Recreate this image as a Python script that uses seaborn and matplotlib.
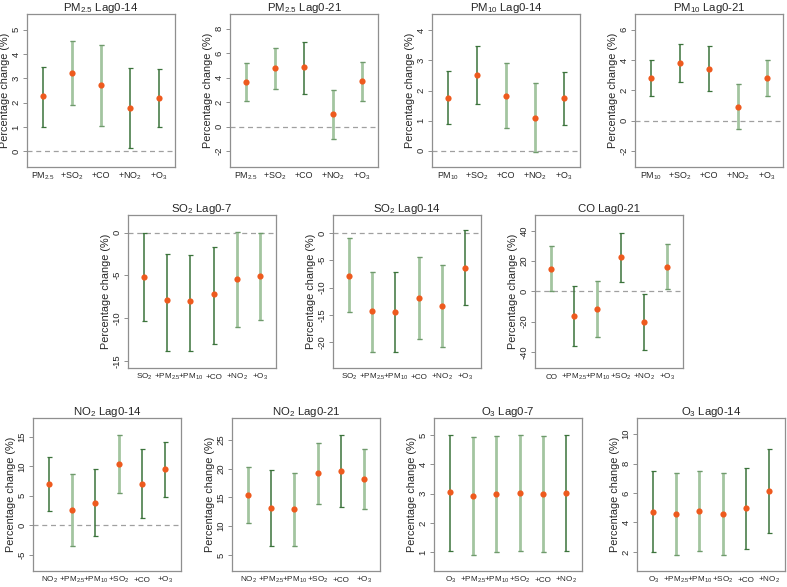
import matplotlib
matplotlib.use("Agg")
import matplotlib.pyplot as plt
import pandas as pd
import seaborn as sns

# model labels for each pollutant
pm25_labels = ["PM$_{2.5}$", "+SO$_2$", "+CO", "+NO$_2$", "+O$_3$"]
pm10_labels = ["PM$_{10}$", "+SO$_2$", "+CO", "+NO$_2$", "+O$_3$"]
so2_labels = ["SO$_2$", "+PM$_{2.5}$", "+PM$_{10}$", "+CO", "+NO$_2$", "+O$_3$"]
co_labels = ["CO", "+PM$_{2.5}$", "+PM$_{10}$", "+SO$_2$", "+NO$_2$", "+O$_3$"]
no2_labels = ["NO$_2$", "+PM$_{2.5}$", "+PM$_{10}$", "+SO$_2$", "+CO", "+O$_3$"]
o3_labels = ["O$_3$", "+PM$_{2.5}$", "+PM$_{10}$", "+SO$_2$", "+CO", "+NO$_2$"]

# percentage change, lower and upper 95% CI
pm25_lag14_est = [2.26, 3.22, 2.73, 1.78, 2.19]
pm25_lag14_lo = [1.01, 1.89, 1.04, 0.14, 0.99]
pm25_lag14_hi = [3.47, 4.55, 4.38, 3.42, 3.40]

pm25_lag21_est = [3.66, 4.75, 4.84, 1.01, 3.69]
pm25_lag21_lo = [2.13, 3.09, 2.68, -1.01, 2.13]
pm25_lag21_hi = [5.19, 6.39, 6.94, 3.03, 5.25]

pm10_lag14_est = [1.76, 2.51, 1.83, 1.10, 1.75]
pm10_lag14_lo = [0.89, 1.56, 0.75, -0.04, 0.87]
pm10_lag14_hi = [2.64, 3.47, 2.90, 2.26, 2.62]

pm10_lag21_est = [2.81, 3.82, 3.38, 0.92, 2.84]
pm10_lag21_lo = [1.63, 2.57, 1.93, -0.57, 1.65]
pm10_lag21_hi = [4.00, 5.05, 4.90, 2.44, 4.00]

so2_lag7_est = [-5.2, -7.9, -8.0, -7.2, -5.4, -5.1]
so2_lag7_lo = [-10.3, -13.9, -13.9, -13.0, -11.1, -10.2]
so2_lag7_hi = [0.0, -2.5, -2.6, -1.7, 0.1, -0.1]

so2_lag14_est = [-7.87, -14.39, -14.45, -11.95, -13.41, -6.40]
so2_lag14_lo = [-14.57, -21.77, -21.83, -19.45, -20.85, -13.29]
so2_lag14_hi = [-0.98, -7.07, -7.13, -4.45, -5.91, 0.55]

co_lag21_est = [14.9, -16.4, -11.6, 22.6, -20.2, 16.2]
co_lag21_lo = [0.4, -36.2, -30.3, 6.4, -38.6, 1.3]
co_lag21_hi = [29.6, 3.3, 7.0, 38.2, -2.0, 31.1]

no2_lag14_est = [7.03, 2.62, 3.85, 10.43, 7.08, 9.48]
no2_lag14_lo = [2.40, -3.57, -1.84, 5.46, 1.23, 4.74]
no2_lag14_hi = [11.60, 8.76, 9.48, 15.39, 12.94, 14.11]

no2_lag21_est = [15.46, 13.17, 13.00, 19.17, 19.57, 18.20]
no2_lag21_lo = [10.46, 6.60, 6.60, 13.86, 13.29, 12.90]
no2_lag21_hi = [20.34, 19.80, 19.30, 24.40, 25.86, 23.40]

o3_lag7_est = [3.04, 2.92, 3.00, 3.03, 2.99, 3.03]
o3_lag7_lo = [1.05, 0.89, 1.00, 1.05, 0.99, 1.04]
o3_lag7_hi = [5.02, 4.93, 4.98, 5.01, 4.97, 5.01]

o3_lag14_est = [4.74, 4.56, 4.79, 4.58, 4.96, 6.13]
o3_lag14_lo = [1.98, 1.80, 2.06, 1.80, 2.21, 3.31]
o3_lag14_hi = [7.52, 7.35, 7.52, 7.35, 7.72, 8.96]

# bar shading seen in the figure (True = dark green, False = light green)
shade_pm25_14 = [True, False, False, True, True]
shade_pm25_21 = [False, False, True, False, False]
shade_pm10_14 = [True, True, False, False, True]
shade_pm10_21 = [True, True, True, False, False]
shade_so2_7 = [True, True, True, True, False, False]
shade_so2_14 = [False, False, True, False, False, True]
shade_co_21 = [False, True, False, True, True, False]
shade_no2_14 = [True, False, True, False, True, True]
shade_no2_21 = [False, True, False, False, True, False]
shade_o3_7 = [True, False, False, False, False, True]
shade_o3_14 = [True, False, False, False, True, True]

# title, labels, est, lo, hi, shade, (left px, top px), ylim, yticks
panels = [
    ("PM$_{2.5}$ Lag0-14", pm25_labels, pm25_lag14_est, pm25_lag14_lo, pm25_lag14_hi,
     shade_pm25_14, (27, 14), (-0.64, 5.64), [0, 1, 2, 3, 4, 5]),
    ("PM$_{2.5}$ Lag0-21", pm25_labels, pm25_lag21_est, pm25_lag21_lo, pm25_lag21_hi,
     shade_pm25_21, (230, 14), (-3.3, 9.2), [-2, 0, 2, 4, 6, 8]),
    ("PM$_{10}$ Lag0-14", pm10_labels, pm10_lag14_est, pm10_lag14_lo, pm10_lag14_hi,
     shade_pm10_14, (432, 14), (-0.54, 4.54), [0, 1, 2, 3, 4]),
    ("PM$_{10}$ Lag0-21", pm10_labels, pm10_lag21_est, pm10_lag21_lo, pm10_lag21_hi,
     shade_pm10_21, (635, 14), (-3.05, 7.03), [-2, 0, 2, 4, 6]),
    ("SO$_2$ Lag0-7", so2_labels, so2_lag7_est, so2_lag7_lo, so2_lag7_hi,
     shade_so2_7, (128, 215), (-15.85, 2.05), [-15, -10, -5, 0]),
    ("SO$_2$ Lag0-14", so2_labels, so2_lag14_est, so2_lag14_lo, so2_lag14_hi,
     shade_so2_14, (333, 215), (-24.76, 3.3), [-20, -15, -10, -5, 0]),
    ("CO Lag0-21", co_labels, co_lag21_est, co_lag21_lo, co_lag21_hi,
     shade_co_21, (535, 215), (-50.7, 50.4), [-40, -20, 0, 20, 40]),
    ("NO$_2$ Lag0-14", no2_labels, no2_lag14_est, no2_lag14_lo, no2_lag14_hi,
     shade_no2_14, (33, 418), (-7.75, 18.2), [-5, 0, 5, 10, 15]),
    ("NO$_2$ Lag0-21", no2_labels, no2_lag21_est, no2_lag21_lo, no2_lag21_hi,
     shade_no2_21, (232, 418), (2.2, 28.8), [5, 10, 15, 20, 25]),
    ("O$_3$ Lag0-7", o3_labels, o3_lag7_est, o3_lag7_lo, o3_lag7_hi,
     shade_o3_7, (434, 418), (0.35, 5.59), [1, 2, 3, 4, 5]),
    ("O$_3$ Lag0-14", o3_labels, o3_lag14_est, o3_lag14_lo, o3_lag14_hi,
     shade_o3_14, (637, 418), (0.7, 11.1), [2, 4, 6, 8, 10]),
]

sns.set_style("white")
plt.rcParams["font.family"] = ["Liberation Sans", "DejaVu Sans"]
plt.rcParams["mathtext.fontset"] = "custom"
plt.rcParams["mathtext.rm"] = "Liberation Sans"
plt.rcParams["mathtext.it"] = "Liberation Sans"
plt.rcParams["axes.unicode_minus"] = False

W, H = 787, 587
box_w, box_h = 148, 153
dark_green = "#3b733b"
light_green = "#a3c5a0"
point_col = "#ee5a1e"
frame_col = "#8f8f8f"

fig = plt.figure(figsize=(W / 100, H / 100), dpi=100)

for title, labels, est, lo, hi, shade, (left, top), ylim, yticks in panels:
    ax = fig.add_axes([left / W, 1 - (top + box_h) / H, box_w / W, box_h / H])
    n = len(labels)
    df = pd.DataFrame({"model": labels, "x": list(range(1, n + 1)),
                       "est": est, "lo": lo, "hi": hi, "dark": shade})

    ax.axhline(0, color="#a0a0a0", lw=0.9, ls=(0, (4, 3)), zorder=1)

    for _, row in df.iterrows():
        col = dark_green if row["dark"] else light_green
        lw = 1.1 if row["dark"] else 2.0
        err = [[row["est"] - row["lo"]], [row["hi"] - row["est"]]]
        ax.errorbar(row["x"], row["est"], yerr=err, fmt="none", ecolor=col,
                    elinewidth=lw, capsize=1.8, capthick=0.9, zorder=2)
        if not row["dark"]:
            # darker caps on the light bars, as in the figure
            ax.errorbar(row["x"], row["est"], yerr=err, fmt="none",
                        ecolor="#6f9a6c", elinewidth=0, capsize=1.8,
                        capthick=0.9, zorder=2)

    sns.scatterplot(data=df, x="x", y="est", ax=ax, color=point_col, s=20,
                    marker="o", linewidth=0, zorder=3, legend=False)

    pad = 0.55 if n == 5 else 0.7
    xfs = 6.4 if n == 5 else 5.9
    ax.set_xlim(1 - pad, n + pad)
    ax.set_ylim(*ylim)
    ax.set_xticks(range(1, n + 1))
    # baseline alignment so labels with and without subscripts line up
    ax.set_xticklabels(labels, fontsize=xfs, va="baseline")
    ax.set_yticks(yticks)
    ax.set_yticklabels([str(t) for t in yticks], fontsize=6.8, rotation=90, va="center")
    ax.tick_params(axis="x", length=0, pad=8)
    ax.tick_params(axis="y", length=3, width=0.7, color=frame_col, pad=1.5, left=True)
    ax.set_xlabel("")
    ax.set_ylabel("Percentage change (%)", fontsize=7.8, labelpad=1)
    ax.set_title(title, fontsize=8.2, pad=2)
    for sp in ax.spines.values():
        sp.set_color(frame_col)
        sp.set_linewidth(0.9)

fig.savefig("out.png", dpi=100)
